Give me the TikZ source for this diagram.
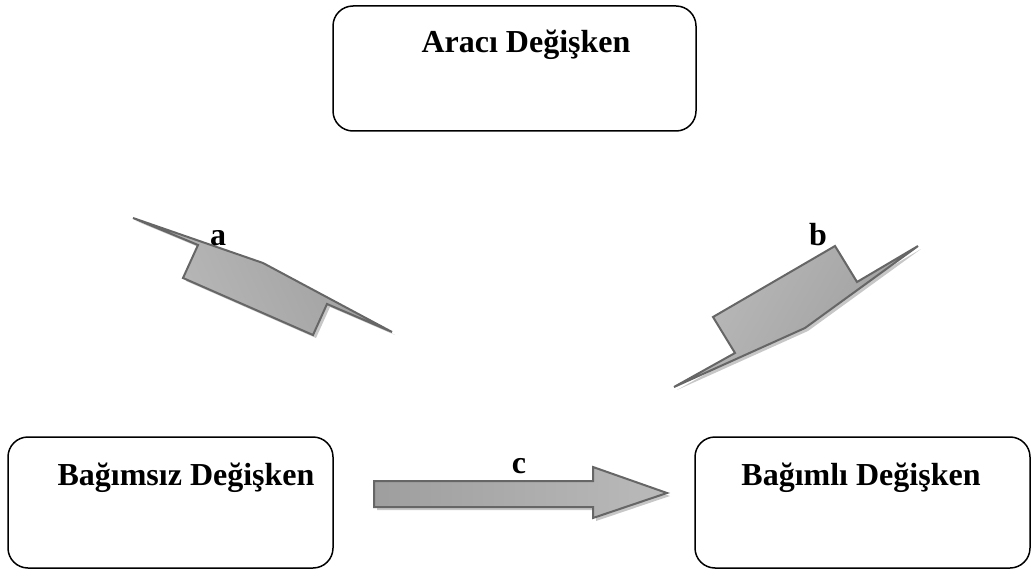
\documentclass[tikz,border=0pt]{standalone}
\usepackage{fontspec}
\setmainfont{Liberation Serif}
\begin{document}
\begin{tikzpicture}[x=1pt,y=-1pt,
  varbox/.style={draw=black, line width=1.5pt, rounded corners=20pt, inner sep=0pt},
  lbl/.style={font=\fontsize{32}{38}\selectfont\bfseries, anchor=base, inner sep=0pt},
  shapeline/.style={draw=black!60, line width=2pt, line join=miter},
  shapefill/.style={left color=black!38, middle color=black!13, right color=black!27},
  shadowfill/.style={fill=black!22, draw=none}]
\useasboundingbox (0,0) rectangle (1033,572);
% boxes
\node[varbox, minimum width=363pt, minimum height=125pt] (med) at (514.5,68.5) {};
\node[lbl] (medt) at (526,53) {Aracı Değişken};
\node[varbox, minimum width=325pt, minimum height=131pt] (ind) at (170.5,502.5) {};
\node[lbl] (indt) at (186,485) {Bağımsız Değişken};
\node[varbox, minimum width=335pt, minimum height=131pt] (dep) at (862.5,502.5) {};
\node[lbl] (dept) at (861,485) {Bağımlı Değişken};
% arrow a
\fill[shadowfill, shift={(3,3)}] (133,218) -- (198,245) -- (183,278) -- (313,335) -- (327,304) -- (392,332) -- (263,263) -- cycle;
\path[shapeline, shapefill, shading angle=-65] (133,218) -- (198,245) -- (183,278) -- (313,335) -- (327,304) -- (392,332) -- (263,263) -- cycle;
\node[lbl] (la) at (218,245) {a};
% arrow b
\fill[shadowfill, shift={(3,3)}] (674,387) -- (735,353) -- (713,317) -- (835,246) -- (857,282) -- (918,246) -- (805,328) -- cycle;
\path[shapeline, shapefill, shading angle=-120] (674,387) -- (735,353) -- (713,317) -- (835,246) -- (857,282) -- (918,246) -- (805,328) -- cycle;
\node[lbl] (lb) at (818,245) {b};
% arrow c
\fill[shadowfill, shift={(3,3)}] (374,481) -- (593,481) -- (593,467) -- (667,493) -- (593,518) -- (593,507) -- (374,507) -- cycle;
\path[shapeline, shapefill] (374,481) -- (593,481) -- (593,467) -- (667,493) -- (593,518) -- (593,507) -- (374,507) -- cycle;
\node[lbl] (lc) at (519,473) {c};
\end{tikzpicture}
\end{document}
